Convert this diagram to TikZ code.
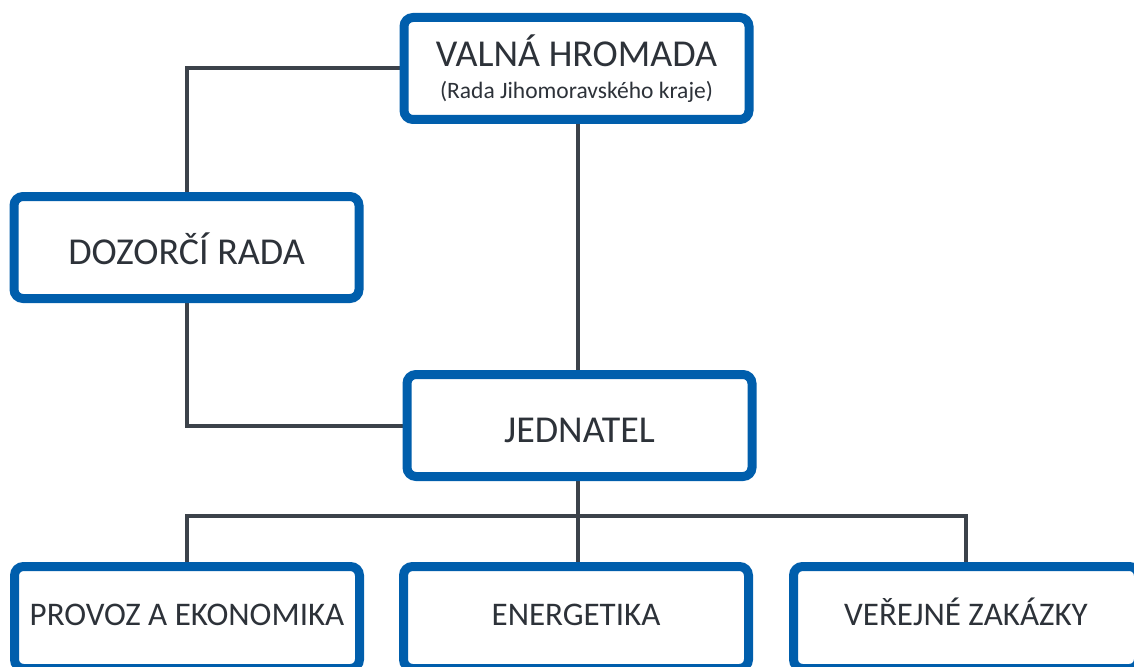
\documentclass[tikz,border=0pt]{standalone}
\usepackage{fontspec}
\setmainfont{Carlito}
\usetikzlibrary{backgrounds}
\definecolor{boxblue}{RGB}{0,94,172}
\definecolor{linegray}{RGB}{60,66,74}
\definecolor{textgray}{RGB}{45,50,57}
\begin{document}
\begin{tikzpicture}[x=1pt,y=-1pt,
  orgbox/.style={draw=boxblue, line width=9pt, rounded corners=9pt, fill=white,
    minimum width=345pt, minimum height=102pt, inner sep=0pt, text=textgray,
    align=center},
  bigtext/.style={font=\fontsize{38}{40}\selectfont, text height=34pt, text depth=0pt},
  smalltext/.style={font=\fontsize{33}{36}\selectfont, text height=15pt, text depth=0pt},
  conn/.style={draw=linegray, line width=4pt}]
\useasboundingbox (0,0) rectangle (1134,666);
\clip (0,0) rectangle (1134,666);
\node[orgbox, font=\fontsize{23.5}{32}\selectfont] (valna) at (576.5,68.5) {{\fontsize{38}{32}\selectfont VALNÁ HROMADA}\\(Rada Jihomoravského kraje)};
\node[orgbox, bigtext] (dozor) at (186.5,247.5) {DOZORČÍ RADA};
\node[orgbox, bigtext] (jedn) at (579.5,425.5) {JEDNATEL};
\node[orgbox, smalltext] (prov) at (187,617.5) {PROVOZ A EKONOMIKA};
\node[orgbox, smalltext] (ener) at (576,617.5) {ENERGETIKA};
\node[orgbox, smalltext] (verej) at (966,617.5) {VEŘEJNÉ ZAKÁZKY};
\coordinate (bus) at (578,516);
\begin{scope}[on background layer]
\draw[conn] (valna.west) -| (dozor.north);
\draw[conn] (dozor.south) |- (jedn.west);
\draw[conn] (valna.south -| bus) -- (jedn.north -| bus);
\draw[conn] (jedn.south -| bus) -- (ener.north -| bus);
\draw[conn] (prov.north) |- (verej.north |- bus) -- (verej.north);
\end{scope}
\end{tikzpicture}
\end{document}
